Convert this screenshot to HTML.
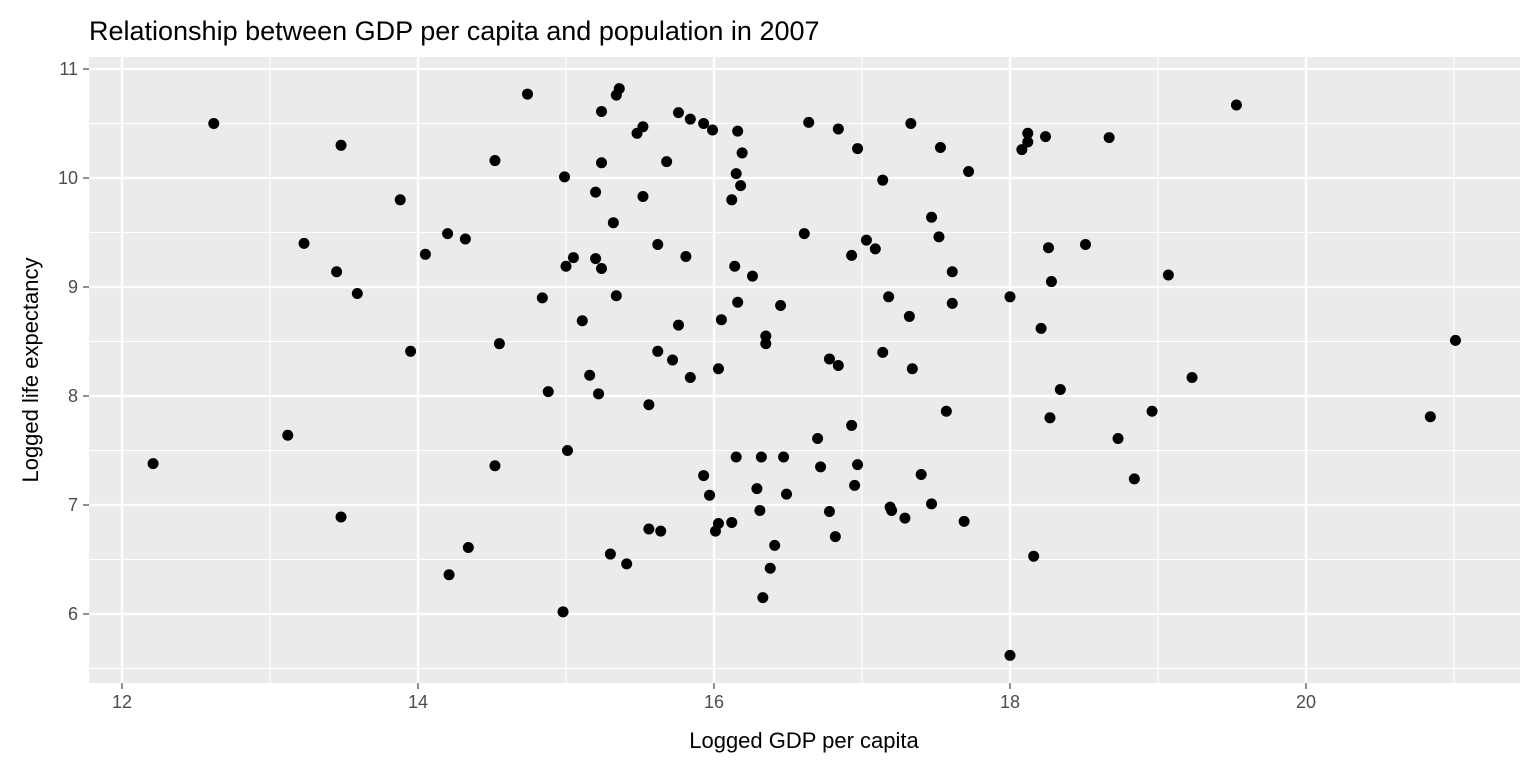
<!DOCTYPE html>
<html><head><meta charset="utf-8"><style>
body{margin:0;background:#fff;width:1536px;height:768px;overflow:hidden;font-family:"Liberation Sans",Arial,sans-serif}
</style></head><body>
<svg id="chart" width="1536" height="768" xmlns="http://www.w3.org/2000/svg" font-family="Liberation Sans, Arial, sans-serif">
<text x="89" y="40" font-size="27" fill="#000">Relationship between GDP per capita and population in 2007</text>
<rect x="89" y="57" width="1431" height="626" fill="#ebebeb"/>
<g id="grid"></g><g id="ticks"></g><g id="points"></g>
<text x="804" y="748" font-size="22" text-anchor="middle" fill="#000">Logged GDP per capita</text>
<text transform="translate(38,370) rotate(-90)" font-size="22" text-anchor="middle" fill="#000">Logged life expectancy</text>
</svg>
<script>
const xTicks=[12,14,16,18,20];
const yTicks=[6,7,8,9,10,11];
const gdp=[12.21,12.62,13.12,13.23,13.45,13.48,13.48,13.59,13.88,13.95,14.05,14.20,14.21,14.32,14.34,14.52,14.52,14.55,14.74,14.84,14.88,14.98,14.99,15.00,15.01,15.05,15.11,15.16,15.20,15.20,15.22,15.24,15.24,15.24,15.30,15.32,15.34,15.34,15.36,15.41,15.48,15.52,15.52,15.56,15.56,15.62,15.62,15.64,15.68,15.72,15.76,15.76,15.81,15.84,15.84,15.93,15.93,15.97,15.99,16.01,16.03,16.03,16.05,16.12,16.12,16.14,16.15,16.15,16.16,16.16,16.18,16.19,16.26,16.29,16.31,16.32,16.33,16.35,16.35,16.38,16.41,16.45,16.47,16.49,16.61,16.64,16.70,16.72,16.78,16.78,16.82,16.84,16.84,16.93,16.93,16.95,16.97,16.97,17.03,17.09,17.14,17.14,17.18,17.19,17.20,17.29,17.32,17.33,17.34,17.40,17.47,17.47,17.52,17.53,17.57,17.61,17.61,17.69,17.72,18.00,18.00,18.08,18.12,18.12,18.26,18.28,18.21,18.24,18.27,18.16,18.34,18.51,18.67,18.73,18.84,18.96,19.07,19.23,19.53,20.84,21.01];
const lifeExp=[7.38,10.50,7.64,9.40,9.14,10.30,6.89,8.94,9.80,8.41,9.30,9.49,6.36,9.44,6.61,10.16,7.36,8.48,10.77,8.90,8.04,6.02,10.01,9.19,7.50,9.27,8.69,8.19,9.87,9.26,8.02,10.61,10.14,9.17,6.55,9.59,8.92,10.76,10.82,6.46,10.41,10.47,9.83,7.92,6.78,8.41,9.39,6.76,10.15,8.33,10.60,8.65,9.28,8.17,10.54,10.50,7.27,7.09,10.44,6.76,8.25,6.83,8.70,9.80,6.84,9.19,10.04,7.44,8.86,10.43,9.93,10.23,9.10,7.15,6.95,7.44,6.15,8.55,8.48,6.42,6.63,8.83,7.44,7.10,9.49,10.51,7.61,7.35,6.94,8.34,6.71,8.28,10.45,7.73,9.29,7.18,10.27,7.37,9.43,9.35,8.40,9.98,8.91,6.98,6.95,6.88,8.73,10.50,8.25,7.28,7.01,9.64,9.46,10.28,7.86,9.14,8.85,6.85,10.06,5.62,8.91,10.26,10.33,10.41,9.36,9.05,8.62,10.38,7.80,6.53,8.06,9.39,10.37,7.61,7.24,7.86,9.11,8.17,10.67,7.81,8.51];
const sx=v=>122+(v-12)*148, sy=v=>69+(11-v)*109;
const NS="http://www.w3.org/2000/svg";
const grid=document.getElementById('grid'),ticks=document.getElementById('ticks'),pts=document.getElementById('points');
function mk(tag,at,parent){const e=document.createElementNS(NS,tag);for(const k in at)e.setAttribute(k,at[k]);parent.appendChild(e);return e;}
for(let v=11;v<=21.5;v+=1){const x=sx(v);if(x<89||x>1520)continue;const major=v%2===0;
 const l=mk('line',{x1:x,x2:x,y1:57,y2:683,stroke:'#fff','stroke-width':major?2.2:1.1},grid);
 
 }
for(let v=5.5;v<=11;v+=0.5){const y=sy(v);if(y<57||y>683)continue;const major=v%1===0;
 const l=mk('line',{x1:89,x2:1520,y1:y,y2:y,stroke:'#fff','stroke-width':major?2.2:1.1},grid);
 
 }
xTicks.forEach(v=>{const x=sx(v);
 const t=mk('line',{x1:x,x2:x,y1:683,y2:689,stroke:'#333','stroke-width':1.1},ticks);
 
 
 const tx=mk('text',{x:x,y:708,'font-size':18,'text-anchor':'middle',fill:'#4d4d4d'},ticks);tx.textContent=v;
 
 });
yTicks.forEach(v=>{const y=sy(v);
 const t=mk('line',{x1:83,x2:89,y1:y,y2:y,stroke:'#333','stroke-width':1.1},ticks);
 
 
 const tx=mk('text',{x:78,y:y+6,'font-size':18,'text-anchor':'end',fill:'#4d4d4d'},ticks);tx.textContent=v;
 
 });
gdp.forEach((g,i)=>{const c=mk('circle',{cx:sx(g),cy:sy(lifeExp[i]),r:5.5,fill:'#000'},pts);
 
 });
</script>
</body></html>
